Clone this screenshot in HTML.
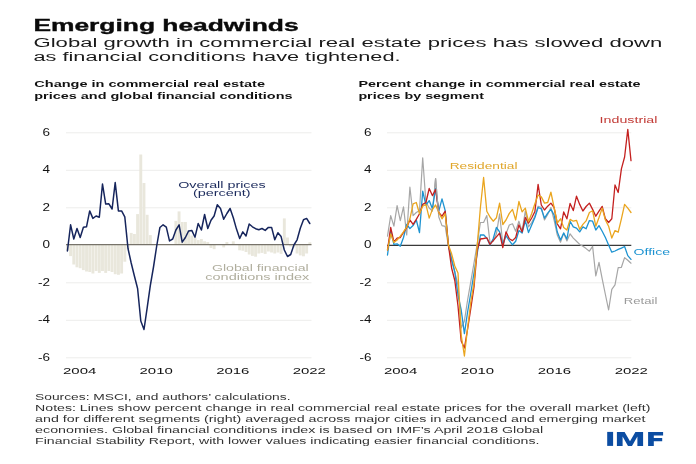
<!DOCTYPE html>
<html><head><meta charset="utf-8"><title>Emerging headwinds</title>
<style>
html,body{margin:0;padding:0;background:#fff;}
body{width:696px;height:464px;overflow:hidden;font-family:"Liberation Sans",sans-serif;}
svg{display:block;font-family:"Liberation Sans",sans-serif;will-change:transform;}
text{-webkit-font-smoothing:antialiased;}
</style></head><body>
<svg width="696" height="464" viewBox="0 0 696 464">
<rect width="696" height="464" fill="#fff"/>
<text stroke="#0a0a0a" stroke-width="0.35" x="33.4" y="30.7" font-size="16.3" font-weight="bold" fill="#0a0a0a" text-anchor="start" textLength="265.2" lengthAdjust="spacingAndGlyphs">Emerging headwinds</text>
<text x="33.5" y="47.0" font-size="13.7" font-weight="normal" fill="#1a1a1a" text-anchor="start" textLength="628.8" lengthAdjust="spacingAndGlyphs">Global growth in commercial real estate prices has slowed down</text>
<text x="33.5" y="60.7" font-size="13.7" font-weight="normal" fill="#1a1a1a" text-anchor="start" textLength="367.0" lengthAdjust="spacingAndGlyphs">as financial conditions have tightened.</text>
<text x="34.3" y="87.4" font-size="9.9" font-weight="bold" fill="#111" text-anchor="start" textLength="230.7" lengthAdjust="spacingAndGlyphs">Change in commercial real estate</text>
<text x="34.3" y="99.2" font-size="9.9" font-weight="bold" fill="#111" text-anchor="start" textLength="258.2" lengthAdjust="spacingAndGlyphs">prices and global financial conditions</text>
<text x="358.4" y="87.4" font-size="9.9" font-weight="bold" fill="#111" text-anchor="start" textLength="282.1" lengthAdjust="spacingAndGlyphs">Percent change in commercial real estate</text>
<text x="358.4" y="99.2" font-size="9.9" font-weight="bold" fill="#111" text-anchor="start" textLength="125.6" lengthAdjust="spacingAndGlyphs">prices by segment</text>
<line x1="66.0" x2="311.5" y1="132.8" y2="132.8" stroke="#ededeb" stroke-width="1"/>
<line x1="66.0" x2="311.5" y1="170.3" y2="170.3" stroke="#ededeb" stroke-width="1"/>
<line x1="66.0" x2="311.5" y1="207.8" y2="207.8" stroke="#ededeb" stroke-width="1"/>
<line x1="66.0" x2="311.5" y1="282.8" y2="282.8" stroke="#ededeb" stroke-width="1"/>
<line x1="66.0" x2="311.5" y1="320.3" y2="320.3" stroke="#ededeb" stroke-width="1"/>
<line x1="66.0" x2="311.5" y1="357.8" y2="357.8" stroke="#ededeb" stroke-width="1"/>
<text x="50.0" y="135.8" font-size="10.0" font-weight="normal" fill="#111" text-anchor="end" textLength="7.5" lengthAdjust="spacingAndGlyphs">6</text>
<text x="50.0" y="173.3" font-size="10.0" font-weight="normal" fill="#111" text-anchor="end" textLength="7.5" lengthAdjust="spacingAndGlyphs">4</text>
<text x="50.0" y="210.8" font-size="10.0" font-weight="normal" fill="#111" text-anchor="end" textLength="7.5" lengthAdjust="spacingAndGlyphs">2</text>
<text x="50.0" y="248.3" font-size="10.0" font-weight="normal" fill="#111" text-anchor="end" textLength="7.5" lengthAdjust="spacingAndGlyphs">0</text>
<text x="50.0" y="285.8" font-size="10.0" font-weight="normal" fill="#111" text-anchor="end" textLength="12.0" lengthAdjust="spacingAndGlyphs">-2</text>
<text x="50.0" y="323.3" font-size="10.0" font-weight="normal" fill="#111" text-anchor="end" textLength="12.0" lengthAdjust="spacingAndGlyphs">-4</text>
<text x="50.0" y="360.8" font-size="10.0" font-weight="normal" fill="#111" text-anchor="end" textLength="12.0" lengthAdjust="spacingAndGlyphs">-6</text>
<g fill="#e9e7dc"><rect x="65.95" y="244.5" width="2.9" height="6.0"/><rect x="69.14" y="244.5" width="2.9" height="11.6"/><rect x="72.33" y="244.5" width="2.9" height="20.0"/><rect x="75.52" y="244.5" width="2.9" height="22.8"/><rect x="78.71" y="244.5" width="2.9" height="23.7"/><rect x="81.90" y="244.5" width="2.9" height="25.6"/><rect x="85.09" y="244.5" width="2.9" height="27.0"/><rect x="88.28" y="244.5" width="2.9" height="27.5"/><rect x="91.47" y="244.5" width="2.9" height="29.0"/><rect x="94.66" y="244.5" width="2.9" height="26.5"/><rect x="97.85" y="244.5" width="2.9" height="28.4"/><rect x="101.04" y="244.5" width="2.9" height="26.5"/><rect x="104.23" y="244.5" width="2.9" height="28.4"/><rect x="107.42" y="244.5" width="2.9" height="26.5"/><rect x="110.61" y="244.5" width="2.9" height="27.5"/><rect x="113.80" y="244.5" width="2.9" height="29.7"/><rect x="116.99" y="244.5" width="2.9" height="30.3"/><rect x="120.18" y="244.5" width="2.9" height="29.0"/><rect x="123.37" y="244.5" width="2.9" height="17.2"/><rect x="126.56" y="244.5" width="2.9" height="4.0"/><rect x="129.75" y="232.9" width="2.9" height="11.6"/><rect x="132.94" y="234.0" width="2.9" height="10.5"/><rect x="136.13" y="214.1" width="2.9" height="30.4"/><rect x="139.32" y="154.5" width="2.9" height="90.0"/><rect x="142.51" y="183.0" width="2.9" height="61.5"/><rect x="145.70" y="214.8" width="2.9" height="29.7"/><rect x="148.89" y="235.1" width="2.9" height="9.4"/><rect x="174.41" y="220.9" width="2.9" height="23.6"/><rect x="177.60" y="211.4" width="2.9" height="33.1"/><rect x="180.79" y="222.0" width="2.9" height="22.5"/><rect x="183.98" y="222.0" width="2.9" height="22.5"/><rect x="187.17" y="230.0" width="2.9" height="14.5"/><rect x="190.36" y="235.6" width="2.9" height="8.9"/><rect x="193.55" y="237.9" width="2.9" height="6.6"/><rect x="196.74" y="240.1" width="2.9" height="4.4"/><rect x="199.93" y="239.0" width="2.9" height="5.5"/><rect x="203.12" y="241.3" width="2.9" height="3.2"/><rect x="206.31" y="242.0" width="2.9" height="2.5"/><rect x="209.50" y="244.5" width="2.9" height="3.5"/><rect x="212.69" y="244.5" width="2.9" height="4.7"/><rect x="222.26" y="244.5" width="2.9" height="2.9"/><rect x="225.45" y="242.0" width="2.9" height="2.5"/><rect x="231.83" y="241.3" width="2.9" height="3.2"/><rect x="238.21" y="244.5" width="2.9" height="5.8"/><rect x="241.40" y="244.5" width="2.9" height="6.2"/><rect x="244.59" y="244.5" width="2.9" height="7.5"/><rect x="247.78" y="244.5" width="2.9" height="10.0"/><rect x="250.97" y="244.5" width="2.9" height="11.4"/><rect x="254.16" y="244.5" width="2.9" height="12.2"/><rect x="257.35" y="244.5" width="2.9" height="9.0"/><rect x="260.54" y="244.5" width="2.9" height="8.4"/><rect x="263.73" y="244.5" width="2.9" height="9.4"/><rect x="266.92" y="244.5" width="2.9" height="7.0"/><rect x="270.11" y="244.5" width="2.9" height="8.0"/><rect x="273.30" y="244.5" width="2.9" height="9.0"/><rect x="276.49" y="244.5" width="2.9" height="8.0"/><rect x="279.68" y="244.5" width="2.9" height="9.4"/><rect x="282.87" y="218.4" width="2.9" height="26.1"/><rect x="286.06" y="237.5" width="2.9" height="7.0"/><rect x="289.25" y="244.5" width="2.9" height="2.0"/><rect x="292.44" y="244.5" width="2.9" height="3.0"/><rect x="295.63" y="244.5" width="2.9" height="9.0"/><rect x="298.82" y="244.5" width="2.9" height="10.9"/><rect x="302.01" y="244.5" width="2.9" height="11.8"/><rect x="305.20" y="244.5" width="2.9" height="9.0"/><rect x="308.39" y="242.3" width="2.9" height="2.2"/></g>
<line x1="66" x2="311.5" y1="244.6" y2="244.6" stroke="#77736a" stroke-width="1.4"/>
<path d="M67.4 251.0 L70.6 224.8 L73.8 239.0 L77.0 228.5 L80.2 237.5 L83.4 227.2 L86.5 226.8 L89.7 210.9 L92.9 218.4 L96.1 216.0 L99.3 217.3 L102.5 184.0 L105.7 204.1 L108.9 203.8 L112.1 209.0 L115.2 182.6 L118.4 210.9 L121.6 210.9 L124.8 216.9 L128.0 248.5 L131.2 263.0 L134.4 276.0 L137.6 288.5 L140.8 321.0 L144.0 329.5 L147.2 307.7 L150.3 285.7 L153.5 267.0 L156.7 246.0 L159.9 227.5 L163.1 224.8 L166.3 227.2 L169.5 240.9 L172.7 239.0 L175.9 230.0 L179.1 224.8 L182.2 242.2 L185.4 237.5 L188.6 231.0 L191.8 230.4 L195.0 237.2 L198.2 223.5 L201.4 230.0 L204.6 214.5 L207.8 228.5 L211.0 220.3 L214.1 216.0 L217.3 204.7 L220.5 208.5 L223.7 219.2 L226.9 213.5 L230.1 208.5 L233.3 217.8 L236.5 229.1 L239.7 238.5 L242.8 231.9 L246.0 236.0 L249.2 224.0 L252.4 226.8 L255.6 228.7 L258.8 229.7 L262.0 228.5 L265.2 230.4 L268.4 227.4 L271.6 227.4 L274.8 239.8 L277.9 232.8 L281.1 236.6 L284.3 250.0 L287.5 256.5 L290.7 254.5 L293.9 245.0 L297.1 239.8 L300.3 228.2 L303.5 219.7 L306.6 218.4 L309.8 223.5" fill="none" stroke="#16255c" stroke-width="1.5" stroke-linejoin="round" stroke-linecap="round"/>
<text x="221.9" y="187.6" font-size="9.2" font-weight="normal" fill="#1b2a5c" text-anchor="middle" textLength="87.5" lengthAdjust="spacingAndGlyphs">Overall prices</text>
<text x="221.8" y="196.1" font-size="9.2" font-weight="normal" fill="#1b2a5c" text-anchor="middle" textLength="57.8" lengthAdjust="spacingAndGlyphs">(percent)</text>
<text x="308.7" y="271.3" font-size="9.0" font-weight="normal" fill="#b0ae9e" text-anchor="end" textLength="96.8" lengthAdjust="spacingAndGlyphs">Global financial</text>
<text x="309.3" y="279.7" font-size="9.0" font-weight="normal" fill="#b0ae9e" text-anchor="end" textLength="104.0" lengthAdjust="spacingAndGlyphs">conditions index</text>
<text x="79.7" y="373.9" font-size="9.5" font-weight="normal" fill="#111" text-anchor="middle" textLength="33.3" lengthAdjust="spacingAndGlyphs">2004</text>
<text x="156.2" y="373.9" font-size="9.5" font-weight="normal" fill="#111" text-anchor="middle" textLength="33.3" lengthAdjust="spacingAndGlyphs">2010</text>
<text x="232.8" y="373.9" font-size="9.5" font-weight="normal" fill="#111" text-anchor="middle" textLength="33.3" lengthAdjust="spacingAndGlyphs">2016</text>
<text x="309.3" y="373.9" font-size="9.5" font-weight="normal" fill="#111" text-anchor="middle" textLength="33.3" lengthAdjust="spacingAndGlyphs">2022</text>
<line x1="387.0" x2="631.3" y1="132.8" y2="132.8" stroke="#ededeb" stroke-width="1"/>
<line x1="387.0" x2="631.3" y1="170.3" y2="170.3" stroke="#ededeb" stroke-width="1"/>
<line x1="387.0" x2="631.3" y1="207.8" y2="207.8" stroke="#ededeb" stroke-width="1"/>
<line x1="387.0" x2="631.3" y1="282.8" y2="282.8" stroke="#ededeb" stroke-width="1"/>
<line x1="387.0" x2="631.3" y1="320.3" y2="320.3" stroke="#ededeb" stroke-width="1"/>
<line x1="387.0" x2="631.3" y1="357.8" y2="357.8" stroke="#ededeb" stroke-width="1"/>
<text x="371.5" y="135.8" font-size="10.0" font-weight="normal" fill="#111" text-anchor="end" textLength="7.5" lengthAdjust="spacingAndGlyphs">6</text>
<text x="371.5" y="173.3" font-size="10.0" font-weight="normal" fill="#111" text-anchor="end" textLength="7.5" lengthAdjust="spacingAndGlyphs">4</text>
<text x="371.5" y="210.8" font-size="10.0" font-weight="normal" fill="#111" text-anchor="end" textLength="7.5" lengthAdjust="spacingAndGlyphs">2</text>
<text x="371.5" y="248.3" font-size="10.0" font-weight="normal" fill="#111" text-anchor="end" textLength="7.5" lengthAdjust="spacingAndGlyphs">0</text>
<text x="371.5" y="285.8" font-size="10.0" font-weight="normal" fill="#111" text-anchor="end" textLength="12.0" lengthAdjust="spacingAndGlyphs">-2</text>
<text x="371.5" y="323.3" font-size="10.0" font-weight="normal" fill="#111" text-anchor="end" textLength="12.0" lengthAdjust="spacingAndGlyphs">-4</text>
<text x="371.5" y="360.8" font-size="10.0" font-weight="normal" fill="#111" text-anchor="end" textLength="12.0" lengthAdjust="spacingAndGlyphs">-6</text>
<line x1="387" x2="631.3" y1="245.4" y2="245.4" stroke="#3a3a3a" stroke-width="1.2"/>
<path d="M387.5 236.2 L390.7 215.6 L393.9 226.2 L397.1 205.6 L400.3 220.6 L403.5 206.9 L406.7 235.0 L409.9 187.2 L413.1 215.6 L416.3 212.5 L419.5 210.6 L422.7 157.8 L425.9 202.0 L429.2 208.0 L432.4 211.0 L435.6 178.5 L438.8 217.0 L442.0 225.6 L445.2 226.4 L448.4 246.0 L451.6 258.0 L454.8 272.0 L458.0 285.0 L461.2 328.0 L464.4 321.0 L467.6 300.0 L470.8 281.7 L474.0 263.0 L477.2 244.0 L480.4 222.5 L483.6 222.5 L486.8 215.6 L490.0 242.5 L493.2 241.2 L496.4 233.8 L499.6 213.8 L502.8 243.8 L506.0 233.8 L509.3 225.0 L512.5 223.8 L515.7 231.2 L518.9 221.2 L522.1 231.2 L525.3 211.2 L528.5 226.9 L531.7 222.5 L534.9 216.2 L538.1 206.2 L541.3 207.5 L544.5 220.0 L547.7 214.4 L550.9 207.5 L554.1 220.0 L557.3 235.0 L560.5 242.2 L563.7 233.1 L566.9 241.0 L570.1 233.8 L573.3 238.1 L576.5 241.2 L579.7 244.4 L582.9 246.2 L586.1 248.6 L589.4 251.2 L592.6 246.3 L595.8 275.9 L599.0 262.4 L602.2 278.9 L605.4 294.5 L608.6 310.0 L611.8 289.3 L615.0 284.8 L618.2 267.6 L621.4 267.3 L624.6 257.6 L627.8 260.2 L631.0 263.2" fill="none" stroke="#a6a6a6" stroke-width="1.2" stroke-linejoin="round" stroke-linecap="round"/>
<path d="M387.5 255.0 L390.7 230.6 L393.9 244.4 L397.1 243.8 L400.3 246.2 L403.5 237.5 L406.7 224.4 L409.9 228.5 L413.1 225.6 L416.3 220.0 L419.5 232.5 L422.7 191.2 L425.9 205.0 L429.2 200.6 L432.4 208.8 L435.6 188.5 L438.8 211.2 L442.0 198.8 L445.2 210.6 L448.4 245.0 L451.6 260.0 L454.8 272.0 L458.0 295.0 L461.2 310.0 L464.4 333.6 L467.6 312.0 L470.8 293.0 L474.0 273.0 L477.2 253.5 L480.4 235.0 L483.6 234.8 L486.8 238.1 L490.0 245.0 L493.2 238.8 L496.4 227.5 L499.6 231.9 L502.8 245.0 L506.0 235.6 L509.3 240.6 L512.5 244.8 L515.7 241.2 L518.9 230.6 L522.1 233.1 L525.3 220.6 L528.5 232.5 L531.7 225.0 L534.9 217.5 L538.1 207.5 L541.3 208.8 L544.5 218.1 L547.7 213.1 L550.9 209.4 L554.1 215.0 L557.3 232.0 L560.5 240.0 L563.7 233.0 L566.9 239.0 L570.1 221.2 L573.3 226.9 L576.5 228.1 L579.7 231.9 L582.9 226.9 L586.1 228.8 L589.4 220.6 L592.6 221.2 L595.8 230.0 L599.0 225.6 L602.2 231.2 L605.4 237.5 L608.6 245.0 L611.8 252.2 L615.0 251.0 L618.2 249.4 L621.4 248.1 L624.6 246.5 L627.8 255.6 L631.0 259.4" fill="none" stroke="#1d93d1" stroke-width="1.3" stroke-linejoin="round" stroke-linecap="round"/>
<path d="M387.5 250.0 L390.7 227.5 L393.9 241.9 L397.1 238.1 L400.3 237.5 L403.5 232.5 L406.7 227.5 L409.9 220.0 L413.1 224.4 L416.3 219.4 L419.5 213.8 L422.7 204.4 L425.9 202.5 L429.2 188.5 L432.4 195.6 L435.6 189.5 L438.8 212.5 L442.0 216.2 L445.2 211.2 L448.4 245.0 L451.6 268.0 L454.8 280.5 L458.0 306.0 L461.2 341.0 L464.4 348.0 L467.6 329.0 L470.8 308.5 L474.0 287.0 L477.2 250.0 L480.4 239.0 L483.6 238.5 L486.8 237.8 L490.0 244.4 L493.2 240.6 L496.4 236.9 L499.6 233.1 L502.8 247.5 L506.0 231.9 L509.3 238.8 L512.5 240.6 L515.7 237.5 L518.9 225.0 L522.1 231.9 L525.3 217.5 L528.5 223.1 L531.7 218.0 L534.9 211.5 L538.1 184.4 L541.3 205.0 L544.5 210.0 L547.7 206.2 L550.9 203.1 L554.1 207.5 L557.3 223.8 L560.5 228.8 L563.7 211.9 L566.9 218.8 L570.1 203.5 L573.3 210.6 L576.5 196.2 L579.7 204.4 L582.9 211.0 L586.1 206.5 L589.4 203.1 L592.6 209.4 L595.8 216.2 L599.0 211.2 L602.2 206.4 L605.4 218.8 L608.6 222.5 L611.8 218.8 L615.0 185.0 L618.2 192.5 L621.4 168.8 L624.6 157.0 L627.8 129.4 L631.0 160.6" fill="none" stroke="#c4201f" stroke-width="1.3" stroke-linejoin="round" stroke-linecap="round"/>
<path d="M387.5 250.0 L390.7 233.8 L393.9 242.5 L397.1 240.0 L400.3 236.2 L403.5 231.9 L406.7 226.9 L409.9 218.8 L413.1 203.8 L416.3 202.5 L419.5 213.8 L422.7 206.2 L425.9 204.4 L429.2 218.1 L432.4 209.4 L435.6 205.0 L438.8 212.5 L442.0 218.8 L445.2 213.8 L448.4 245.0 L451.6 253.8 L454.8 266.0 L458.0 273.0 L461.2 335.0 L464.4 356.0 L467.6 328.0 L470.8 302.0 L474.0 283.0 L477.2 246.0 L480.4 207.5 L483.6 177.5 L486.8 211.2 L490.0 217.0 L493.2 221.2 L496.4 217.8 L499.6 203.1 L502.8 224.5 L506.0 220.0 L509.3 213.4 L512.5 209.4 L515.7 220.0 L518.9 201.5 L522.1 211.9 L525.3 208.1 L528.5 221.5 L531.7 213.5 L534.9 203.8 L538.1 195.0 L541.3 196.9 L544.5 203.1 L547.7 202.5 L550.9 192.2 L554.1 207.5 L557.3 223.0 L560.5 218.8 L563.7 227.5 L566.9 230.0 L570.1 219.4 L573.3 221.2 L576.5 220.3 L579.7 229.4 L582.9 224.4 L586.1 220.9 L589.4 212.5 L592.6 210.8 L595.8 226.2 L599.0 217.5 L602.2 208.1 L605.4 220.0 L608.6 226.2 L611.8 238.1 L615.0 230.6 L618.2 232.2 L621.4 218.8 L624.6 204.4 L627.8 208.1 L631.0 212.5" fill="none" stroke="#eaa51e" stroke-width="1.3" stroke-linejoin="round" stroke-linecap="round"/>
<path d="M434.7 187.6 L435.6 178.5 L438.3 211.2" fill="none" stroke="#a6a6a6" stroke-width="1.2" stroke-linejoin="round"/>
<text x="599.6" y="122.8" font-size="9.2" font-weight="normal" fill="#c23b36" text-anchor="start" textLength="57.8" lengthAdjust="spacingAndGlyphs">Industrial</text>
<text x="449.7" y="168.7" font-size="9.2" font-weight="normal" fill="#e0a62a" text-anchor="start" textLength="67.8" lengthAdjust="spacingAndGlyphs">Residential</text>
<text x="633.5" y="254.5" font-size="9.2" font-weight="normal" fill="#1d93d1" text-anchor="start" textLength="36.6" lengthAdjust="spacingAndGlyphs">Office</text>
<text x="623.8" y="303.8" font-size="9.2" font-weight="normal" fill="#9a9a9a" text-anchor="start" textLength="33.6" lengthAdjust="spacingAndGlyphs">Retail</text>
<text x="400.6" y="373.9" font-size="9.5" font-weight="normal" fill="#111" text-anchor="middle" textLength="33.3" lengthAdjust="spacingAndGlyphs">2004</text>
<text x="477.5" y="373.9" font-size="9.5" font-weight="normal" fill="#111" text-anchor="middle" textLength="33.3" lengthAdjust="spacingAndGlyphs">2010</text>
<text x="554.4" y="373.9" font-size="9.5" font-weight="normal" fill="#111" text-anchor="middle" textLength="33.3" lengthAdjust="spacingAndGlyphs">2016</text>
<text x="631.3" y="373.9" font-size="9.5" font-weight="normal" fill="#111" text-anchor="middle" textLength="33.3" lengthAdjust="spacingAndGlyphs">2022</text>
<text x="35.1" y="400.0" font-size="9.2" font-weight="normal" fill="#333" text-anchor="start" textLength="255.4" lengthAdjust="spacingAndGlyphs">Sources: MSCI, and authors’ calculations.</text>
<text x="35.1" y="411.0" font-size="9.2" font-weight="normal" fill="#333" text-anchor="start" textLength="615.3" lengthAdjust="spacingAndGlyphs">Notes: Lines show percent change in real commercial real estate prices for the overall market (left)</text>
<text x="35.1" y="421.8" font-size="9.2" font-weight="normal" fill="#333" text-anchor="start" textLength="610.4" lengthAdjust="spacingAndGlyphs">and for different segments (right) averaged across major cities in advanced and emerging market</text>
<text x="35.1" y="432.6" font-size="9.2" font-weight="normal" fill="#333" text-anchor="start" textLength="508.1" lengthAdjust="spacingAndGlyphs">economies. Global financial conditions index is based on IMF’s April 2018 Global</text>
<text x="35.1" y="443.5" font-size="9.2" font-weight="normal" fill="#333" text-anchor="start" textLength="504.3" lengthAdjust="spacingAndGlyphs">Financial Stability Report, with lower values indicating easier financial conditions.</text>
<g fill="#0c4da2">
<rect x="607.2" y="431.9" width="5.9" height="14"/>
<path d="M616.9 445.9V431.9H624.6L630 441.3L635.4 431.9H643.1V445.9H637.4V436.6L632 445.9H628L622.6 436.6V445.9Z"/>
<path d="M648.1 445.9V431.9H663.1V435.6H653.8V437.9H662.2V441.3H653.8V445.9Z"/>
</g>
</svg></body></html>
